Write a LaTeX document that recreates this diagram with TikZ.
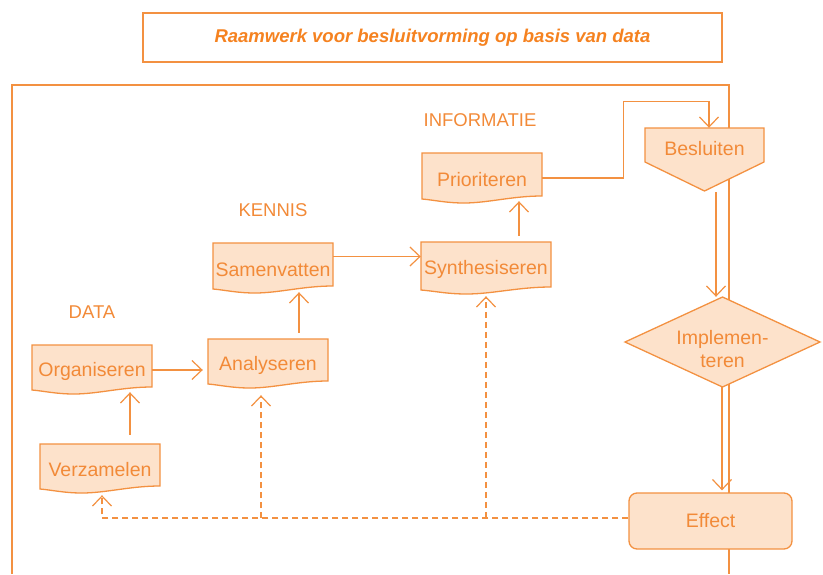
\documentclass[tikz,border=0pt]{standalone}
\usepackage{fontspec}
\setmainfont{Liberation Sans}
\usetikzlibrary{arrows.meta}
\definecolor{orline}{HTML}{F39141}
\definecolor{ortext}{HTML}{F28A38}
\definecolor{ortitle}{HTML}{F58220}
\definecolor{orfill}{HTML}{FDE2CB}
\tikzset{
  ln/.style={draw=orline, line width=1.3pt},
  shapefill/.style={fill=orfill, draw=orline, line width=1.3pt},
  lbl/.style={text=ortext, font=\fontsize{18.5}{22}\selectfont, inner sep=0pt},
  anchorbox/.style={draw=none, inner sep=0pt, text=ortext, font=\fontsize{19.5}{23}\selectfont, align=center},
  arr/.style={ln, -{Straight Barb[length=10pt,width=19pt,line width=1.2pt]}},
  dasharr/.style={arr, dash pattern=on 6pt off 4pt},
  dashln/.style={ln, dash pattern=on 6pt off 4pt}
}
% #1 name, #2 L, #3 T, #4 R, #5 B (right bottom), #6 text
\newcommand\docnode[6]{%
  \filldraw[shapefill] (#2,#3) -- (#4,#3) -- (#4,#5)
    .. controls ({#4-0.25*(#4-#2)},{#5}) and ({#2+0.55*(#4-#2)},{#5+7}) .. ({#2+0.35*(#4-#2)},{#5+7})
    .. controls ({#2+0.2*(#4-#2)},{#5+7}) and ({#2+0.1*(#4-#2)},{#5+4}) .. (#2,{#5+3}) -- cycle;
  \node[anchorbox, minimum width={(#4-#2)*1pt}, minimum height={(#5-#3+4)*1pt}] (#1) at ({(#2+#4)/2},{(#3+#5)/2+2}) {\raisebox{-3pt}[\height][\depth]{#6}};
}
\begin{document}
\begin{tikzpicture}[x=1pt,y=-1pt]
\useasboundingbox (0,0) rectangle (823,574);
% title
\node[draw=orline, line width=1.5pt, minimum width=579pt, minimum height=49pt, inner sep=0pt,
  text=ortitle, font=\fontsize{18.5}{22}\selectfont\bfseries\itshape] (title) at (432.5,37.5)
  {Raamwerk voor besluitvorming op basis van data};
% frame
\draw[ln, line width=1.5pt] (12,574) -- (12,85) -- (729,85) -- (729,574);
% headings
\node[lbl] (hdata) at (92,312) {DATA};
\node[lbl] (hkennis) at (273,210) {KENNIS};
\node[lbl] (hinfo) at (480,120) {INFORMATIE};
% document nodes
\docnode{verz}{40}{444}{160}{486}{Verzamelen}
\docnode{org}{32}{345}{152}{387}{Organiseren}
\docnode{ana}{208}{339}{328}{381}{Analyseren}
\docnode{sam}{213}{243}{333}{286}{Samenvatten}
\docnode{syn}{421}{242}{551}{287}{Synthesiseren}
\docnode{pri}{422}{153}{542}{196}{Prioriteren}
% Besluiten
\filldraw[shapefill] (645,128) -- (764,128) -- (764,162) -- (704.5,191) -- (645,162) -- cycle;
\node[anchorbox, minimum width=119pt, minimum height=63pt,
  label={[anchorbox, yshift=11pt]center:Besluiten}] (bes) at (704.5,159.5) {};
% Implementeren
\filldraw[shapefill] (722.5,297) -- (820,342) -- (722.5,387) -- (625,342) -- cycle;
\node[anchorbox, minimum width=195pt, minimum height=90pt] (impl) at (722.5,342)
  {\raisebox{-9pt}[\height][\depth]{\begin{tabular}{@{}c@{}}Implemen-\\[0pt]teren\end{tabular}}};
% Effect
\node[shapefill, rounded corners=8pt, minimum width=163pt, minimum height=56pt, inner sep=0pt,
  text=ortext, font=\fontsize{19.5}{23}\selectfont] (eff) at (710.5,521) {Effect};
% connectors
\draw[arr] ([xshift=30pt,yshift=9pt]verz.north) -- ([xshift=38pt,yshift=-1pt]org.south);
\draw[arr] ([yshift=-2pt]org.east) -- ([xshift=-5pt,yshift=-2pt]ana.west |- org.east);
\draw[arr] ([xshift=31pt,yshift=6pt]ana.north) -- ([xshift=26pt,yshift=-2pt]sam.south);
\draw[arr] ([yshift=10pt]sam.east) -- ([yshift=10pt]syn.west);
\draw[arr] ([xshift=33pt,yshift=6pt]syn.north) -- ([xshift=37pt,yshift=-1pt]pri.south);
\draw[arr] ([yshift=-1.5pt]pri.east) -- ++(81,0) |- ([xshift=4.5pt,yshift=26pt]bes.north) -- ([xshift=4.5pt]bes.north);
\draw[arr] ([xshift=11.5pt,yshift=-1pt]bes.south) -- ([xshift=-6.5pt]impl.north);
\draw[arr] ([xshift=-0.5pt]impl.south) -- ([xshift=11.5pt,yshift=2pt]eff.north);
% dashed feedback
\coordinate (dl) at ([yshift=3pt]eff.west);
\coordinate (verztip) at ([xshift=2pt,yshift=-5pt]verz.south);
\coordinate (anatip) at ([xshift=-7pt,yshift=-10pt]ana.south);
\coordinate (syntip) at ([yshift=-5pt]syn.south);
\draw[dasharr] (dl) -| (verztip);
\draw[dasharr] (dl -| anatip) -- (anatip);
\draw[dasharr] (dl -| syntip) -- (syntip);
\end{tikzpicture}
\end{document}
